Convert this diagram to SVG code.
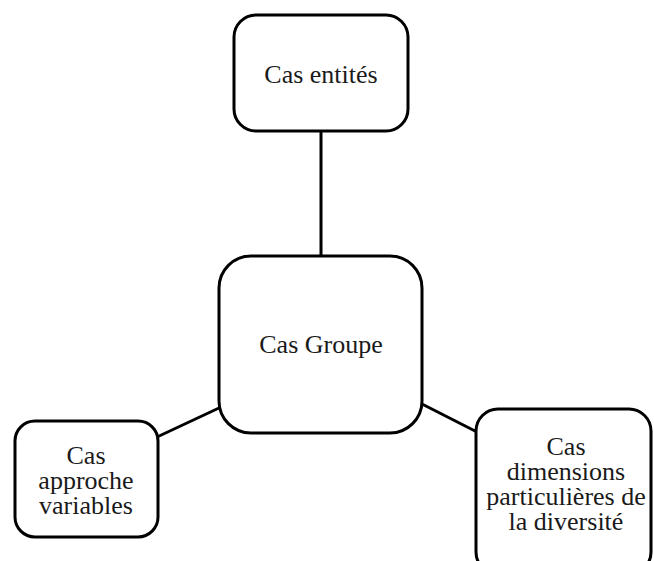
<svg xmlns="http://www.w3.org/2000/svg" width="654" height="561" viewBox="0 0 654 561">
  <style>
    .box { fill: #ffffff; stroke: #000000; stroke-width: 3; }
    .link { stroke: #000000; stroke-width: 3; fill: none; }
    .label { font-family: "Liberation Serif", "Times New Roman", serif; font-size: 26px; fill: #1a1a1a; text-anchor: middle; }
  </style>
  <rect x="0" y="0" width="654" height="561" fill="#ffffff"/>
  <g id="connectors">
    <line class="link" x1="321" y1="131" x2="321" y2="257"/>
    <line class="link" x1="157" y1="437" x2="219" y2="408"/>
    <line class="link" x1="422" y1="404" x2="477" y2="432"/>
  </g>
  <g id="node-entites">
    <rect class="box" x="234" y="15" width="174" height="116" rx="22" ry="22"/>
    <text class="label" x="321" y="83">Cas entités</text>
  </g>
  <g id="node-groupe">
    <rect class="box" x="219" y="256" width="203" height="177" rx="32" ry="32"/>
    <text class="label" x="321" y="353">Cas Groupe</text>
  </g>
  <g id="node-variables">
    <rect class="box" x="15" y="421" width="143" height="116" rx="20" ry="20"/>
    <text class="label" x="86" y="464">Cas</text>
    <text class="label" x="86" y="489">approche</text>
    <text class="label" x="86" y="514">variables</text>
  </g>
  <g id="node-diversite">
    <rect class="box" x="476" y="409" width="175" height="165" rx="22" ry="22"/>
    <text class="label" x="566" y="455">Cas</text>
    <text class="label" x="566" y="480">dimensions</text>
    <text class="label" x="566" y="505">particulières de</text>
    <text class="label" x="566" y="530">la diversité</text>
  </g>
</svg>
